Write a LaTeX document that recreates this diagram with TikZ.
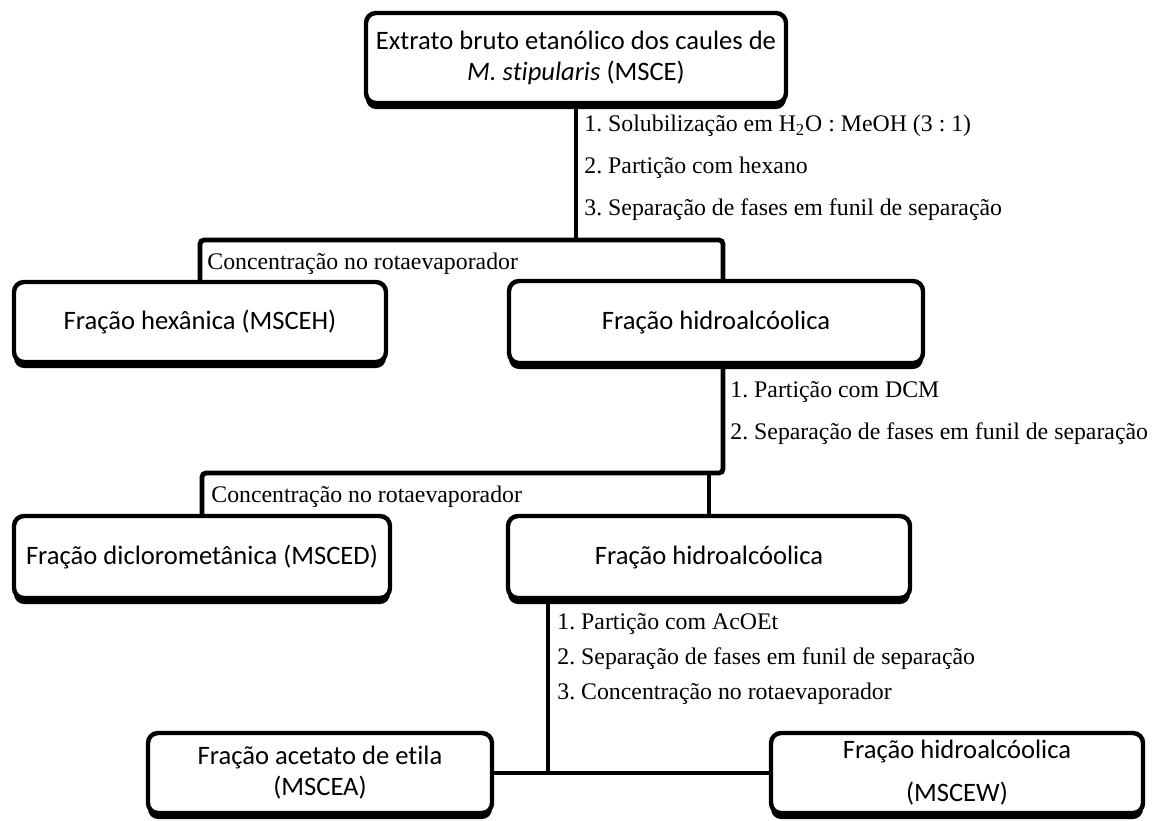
\documentclass[tikz,border=0pt]{standalone}
\usepackage{fontspec}
\newfontfamily\boxfont{Carlito}[Ligatures=NoCommon]
\newfontfamily\stepfont{Liberation Serif}
\usetikzlibrary{shadows}
\frenchspacing
\tikzset{
  box/.style={draw=black, line width=2.2pt, rounded corners=5pt, fill=white,
    align=center, inner sep=0pt,
    font=\boxfont\fontsize{13.3}{15.5}\selectfont,
    drop shadow={shadow xshift=0pt, shadow yshift=-3pt, fill=black, opacity=1}},
  stepnote/.style={anchor=west, inner sep=0pt,
    font=\stepfont\fontsize{11.9}{14}\selectfont},
  link/.style={line width=2.4pt}
}
\begin{document}
\begin{tikzpicture}[x=0.5pt, y=-0.5pt]
\useasboundingbox (0,0) rectangle (1155,820);

\node[box, minimum width=210pt, minimum height=45pt] (msce) at (576,58)
  {Extrato bruto etanólico dos caules de\\ \textit{M. stipularis} (MSCE)};
\node[box, minimum width=186pt, minimum height=40pt] (hexa) at (200,322) {Fração hexânica (MSCEH)};
\node[box, minimum width=207pt, minimum height=41pt] (hidroA) at (716,322) {Fração hidroalcóolica};
\node[box, minimum width=188pt, minimum height=41pt] (dcm) at (202,557) {Fração diclorometânica (MSCED)};
\node[box, minimum width=201pt, minimum height=41pt] (hidroB) at (709,557) {Fração hidroalcóolica};
\node[box, minimum width=172pt, minimum height=40pt] (acoet) at (320,773)
  {Fração acetato de etila\\ (MSCEA)};
\node[box, minimum width=186pt, minimum height=40pt, font=\boxfont\fontsize{13.3}{21.5}\selectfont] (water) at (957,773)
  {Fração hidroalcóolica\\ (MSCEW)};

\coordinate (j1) at (576,240);
\coordinate (j2) at (723,473);
\coordinate (j3) at (548,775);

\node[stepnote] (s11) at (584,126) {1. Solubilização em H\textsubscript{2}O : MeOH (3 : 1)};
\node[stepnote] (s12) at (584,168) {2. Partição com hexano};
\node[stepnote] (s13) at (584,210) {3. Separação de fases em funil de separação};
\node[stepnote] (c1) at (207,264) {Concentração no rotaevaporador};
\node[stepnote] (s21) at (730,392) {1. Partição com DCM};
\node[stepnote] (s22) at (730,434) {2. Separação de fases em funil de separação};
\node[stepnote] (c2) at (211,497) {Concentração no rotaevaporador};
\node[stepnote] (s31) at (557,624) {1. Partição com AcOEt};
\node[stepnote] (s32) at (557,659) {2. Separação de fases em funil de separação};
\node[stepnote] (s33) at (557,694) {3. Concentração no rotaevaporador};

\draw[link] (msce.south) -- (j1);
\draw[link, rounded corners=2pt] (hexa.north) |- (j2 |- j1) -- (j2 |- hidroA.north);
\draw[link, rounded corners=2pt] (j2 |- hidroA.south) -- (j2) -- (dcm.north |- j2) -- (dcm.north);
\draw[link] (hidroB.north |- j2) -- (hidroB.north);
\draw[link] (j3 |- hidroB.south) -- (j3);
\draw[link] (acoet.east) -- (water.west);
\end{tikzpicture}
\end{document}
